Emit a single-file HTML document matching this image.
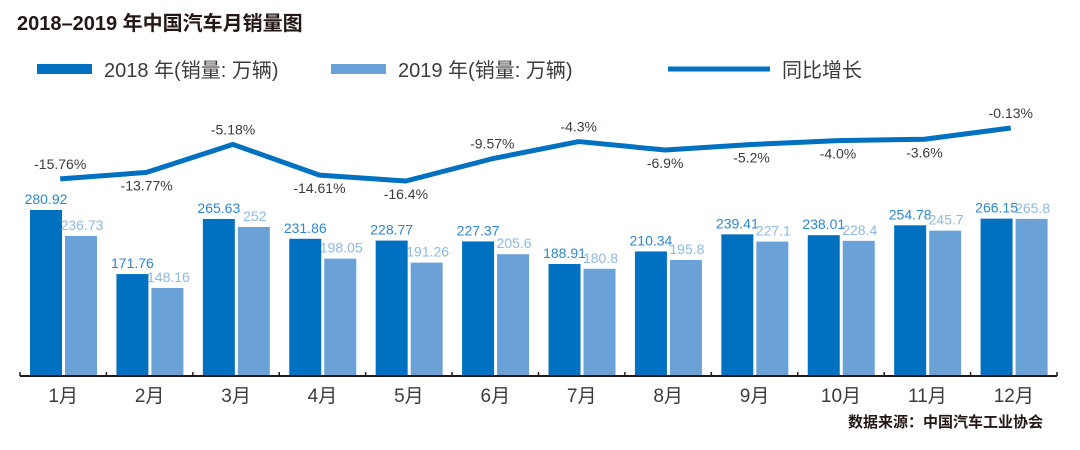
<!DOCTYPE html>
<html><head><meta charset="utf-8"><style>
body{margin:0;background:#fff;}
svg{display:block;font-family:"Liberation Sans","Noto Sans CJK SC",sans-serif;}
</style></head><body>
<svg id="c" width="1080" height="450">
<text x="17" y="30" font-size="20" font-weight="bold" fill="#231815">2018–2019 年中国汽车月销量图</text>
<g>
<rect x="37" y="64" width="55" height="10" fill="#0070c0"/>
<text x="104" y="77" font-size="20" fill="#3e3a39">2018 年(销量: 万辆)</text>
<rect x="331" y="64" width="55" height="10" fill="#6aa2d8"/>
<text x="398" y="77" font-size="20" fill="#3e3a39">2019 年(销量: 万辆)</text>
<line x1="668" y1="69" x2="770" y2="69" stroke="#0070c0" stroke-width="5"/>
<text x="782" y="77" font-size="20" fill="#3e3a39">同比增长</text>
</g>
<g id="plot"></g>
<text x="1043" y="427" font-size="15" font-weight="bold" fill="#231815" text-anchor="end">数据来源：中国汽车工业协会</text>
</svg>
<script>
const months=["1月","2月","3月","4月","5月","6月","7月","8月","9月","10月","11月","12月"];
const sales2018=[280.92,171.76,265.63,231.86,228.77,227.37,188.91,210.34,239.41,238.01,254.78,266.15];
const sales2019=[236.73,148.16,252,198.05,191.26,205.6,180.8,195.8,227.1,228.4,245.7,265.8];
const growth=[-15.76,-13.77,-5.18,-14.61,-16.4,-9.57,-4.3,-6.9,-5.2,-4.0,-3.6,-0.13];
const growthLabels=["-15.76%","-13.77%","-5.18%","-14.61%","-16.4%","-9.57%","-4.3%","-6.9%","-5.2%","-4.0%","-3.6%","-0.13%"];
const labelAbove=[true,false,true,false,false,true,true,false,false,false,false,true];

const NS="http://www.w3.org/2000/svg";
const g=document.getElementById('plot');
const x0=20,x1=1057,base=375,gw=(x1-x0)/12;
const yBar=v=>base-v*0.5875;
const yLine=v=>181+(-16.4-v)*3.26;
const gx=i=>x0+i*gw;
function mk(t,a){const e=document.createElementNS(NS,t);for(const k in a)e.setAttribute(k,a[k]);g.appendChild(e);return e;}
months.forEach((m,i)=>{
  const l=gx(i);
  let r=mk('rect',{x:l+10,y:yBar(sales2018[i]),width:32,height:base-yBar(sales2018[i]),fill:'#0070c0'});
  
  
  r=mk('rect',{x:l+45,y:yBar(sales2019[i]),width:32,height:base-yBar(sales2019[i]),fill:'#6aa2d8'});
  
  
  let t=mk('text',{x:l+26,y:yBar(sales2018[i])-6,'font-size':14,fill:'#2f86cc','text-anchor':'middle'});
  t.textContent=sales2018[i];
  
  
  t=mk('text',{x:l+62,y:yBar(sales2019[i])-6,'font-size':14,fill:'#8fb8e2','text-anchor':'middle'});
  t.textContent=sales2019[i];
  
  
  t=mk('text',{x:l+gw/2,y:402,'font-size':19,fill:'#3e3a39','text-anchor':'middle'});
  t.textContent=m;
  
  
});
const ax=mk('line',{x1:x0,y1:base+1,x2:x1,y2:base+1,stroke:'#231815','stroke-width':2});


for(let i=0;i<=12;i++){const tk=mk('line',{x1:gx(i),y1:base-3,x2:gx(i),y2:base+1,stroke:'#231815','stroke-width':1.5});

}
const pts=growth.map((v,i)=>[gx(i)+gw/2-3,yLine(v)]);
const pl=mk('polyline',{points:pts.map(p=>p.join(',')).join(' '),fill:'none',stroke:'#0070c0','stroke-width':5,'stroke-linejoin':'round'});


growth.forEach((v,i)=>{
  const t=mk('text',{x:pts[i][0],y:labelAbove[i]?pts[i][1]-10:pts[i][1]+18,'font-size':14,fill:'#3e3a39','text-anchor':'middle'});
  t.textContent=growthLabels[i];
  
  
});
</script>
</body></html>
